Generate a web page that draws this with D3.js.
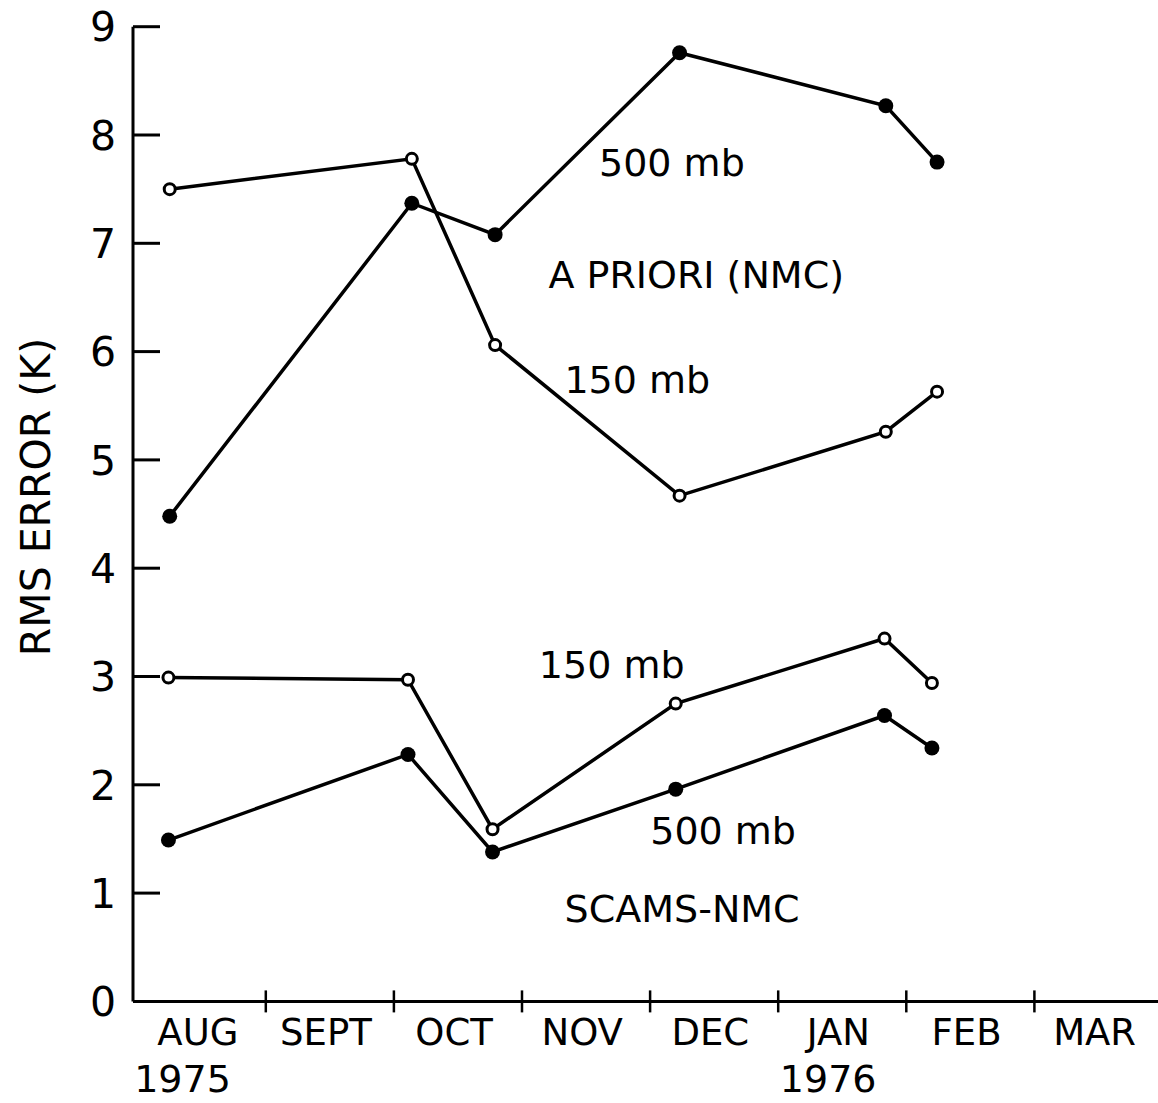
<!DOCTYPE html>
<html>
<head>
<meta charset="utf-8">
<script src="https://cdn.jsdelivr.net/npm/d3@7"></script>
<style>
  body { margin: 0; background: #fff; }
  text { font-family: "DejaVu Sans", sans-serif; fill: #000; }
</style>
</head>
<body>
<script>
// months along the x axis (index 0 = start of Aug 1975)
var months = ["AUG", "SEPT", "OCT", "NOV", "DEC", "JAN", "FEB", "MAR"];
var years = [{"label": "1975", "month": 0.35}, {"label": "1976", "month": 5.39}];
var yTicks = [0, 1, 2, 3, 4, 5, 6, 7, 8, 9];

// observation dates, in months since 1 Aug 1975
var aprioriMonths = [0.25, 2.14, 2.79, 4.23, 5.84, 6.24];
var scamsMonths = [0.24, 2.11, 2.77, 4.20, 5.83, 6.20];

// rms error (K)
var apriori500 = [4.48, 7.37, 7.08, 8.76, 8.27, 7.75];
var apriori150 = [7.50, 7.78, 6.06, 4.67, 5.26, 5.63];
var scams150 = [2.99, 2.97, 1.59, 2.75, 3.35, 2.94];
var scams500 = [1.49, 2.28, 1.38, 1.96, 2.64, 2.34];

// text labels inside the plot (month, value)
var notes = [
  {"text": "500 mb", "month": 4.17, "value": 7.75},
  {"text": "A PRIORI (NMC)", "month": 4.36, "value": 6.71},
  {"text": "150 mb", "month": 3.90, "value": 5.74},
  {"text": "150 mb", "month": 3.70, "value": 3.11},
  {"text": "500 mb", "month": 4.57, "value": 1.58},
  {"text": "SCAMS-NMC", "month": 4.25, "value": 0.86}
];

var series = [
  {"x": aprioriMonths, "y": apriori500, "open": false},
  {"x": aprioriMonths, "y": apriori150, "open": true},
  {"x": scamsMonths, "y": scams150, "open": true},
  {"x": scamsMonths, "y": scams500, "open": false}
];

var w = 1158;
var h = 1103;

var svg = d3.select("body")
            .append("svg")
            .attr("width", w)
            .attr("height", h);

//scales
var x_scale = d3.scaleLinear()
                .domain([0, 8])
                .range([137.7, 137.7 + 8 * 128.1]);

var y_scale = d3.scaleLinear()
                .domain([0, 9])
                .range([1001.4, 26.7]);

//y axis line and inward ticks
svg.append("line")
   .attr("x1", 133).attr("x2", 133)
   .attr("y1", y_scale(0)).attr("y2", y_scale(9))
   .style("stroke", "black").style("stroke-width", 3);

svg.selectAll(".ytick")
   .data(yTicks.slice(1))
   .enter()
   .append("line")
   .attr("class", "ytick")
   .attr("x1", 133).attr("x2", 160)
   .attr("y1", function(d) { return y_scale(d); })
   .attr("y2", function(d) { return y_scale(d); })
   .style("stroke", "black").style("stroke-width", 3);

svg.selectAll(".ylab")
   .data(yTicks)
   .enter()
   .append("text")
   .attr("class", "ylab")
   .attr("x", 116)
   .attr("y", function(d) { return y_scale(d); })
   .attr("dy", "0.36em")
   .style("text-anchor", "end")
   .style("font-size", "41px")
   .text(function(d) { return d; });

//y axis title
svg.append("text")
   .attr("transform", "translate(50,497) rotate(-90)")
   .style("text-anchor", "middle")
   .style("font-size", "41px")
   .text("RMS ERROR (K)");

//x axis line and month ticks
svg.append("line")
   .attr("x1", 133).attr("x2", w)
   .attr("y1", y_scale(0)).attr("y2", y_scale(0))
   .style("stroke", "black").style("stroke-width", 3);

svg.selectAll(".xtick")
   .data(d3.range(1, months.length))
   .enter()
   .append("line")
   .attr("class", "xtick")
   .attr("x1", function(d) { return x_scale(d); })
   .attr("x2", function(d) { return x_scale(d); })
   .attr("y1", y_scale(0) - 11)
   .attr("y2", y_scale(0) + 11)
   .style("stroke", "black").style("stroke-width", 2.5);

svg.selectAll(".mlab")
   .data(months)
   .enter()
   .append("text")
   .attr("class", "mlab")
   .attr("x", function(d, i) { return x_scale(i + 0.47); })
   .attr("y", 1045)
   .style("text-anchor", "middle")
   .style("font-size", "37px")
   .text(function(d) { return d; });

svg.selectAll(".yrlab")
   .data(years)
   .enter()
   .append("text")
   .attr("class", "yrlab")
   .attr("x", function(d) { return x_scale(d.month); })
   .attr("y", 1092)
   .style("text-anchor", "middle")
   .style("font-size", "38px")
   .text(function(d) { return d.label; });

//lines and points
var line = d3.line()
             .x(function(d) { return x_scale(d[0]); })
             .y(function(d) { return y_scale(d[1]); });

series.forEach(function(s) {
  var pts = s.x.map(function(m, i) { return [m, s.y[i]]; });

  svg.append("path")
     .datum(pts)
     .attr("d", line)
     .style("fill", "none")
     .style("stroke", "black")
     .style("stroke-width", 3.5);

  svg.selectAll(null)
     .data(pts)
     .enter()
     .append("circle")
     .attr("cx", function(d) { return x_scale(d[0]); })
     .attr("cy", function(d) { return y_scale(d[1]); })
     .attr("r", s.open ? 5.5 : 7.5)
     .style("fill", s.open ? "white" : "black")
     .style("stroke", "black")
     .style("stroke-width", s.open ? 3 : 0);
});

//annotations
svg.selectAll(".note")
   .data(notes)
   .enter()
   .append("text")
   .attr("class", "note")
   .attr("x", function(d) { return x_scale(d.month); })
   .attr("y", function(d) { return y_scale(d.value); })
   .attr("dy", "0.36em")
   .style("text-anchor", "middle")
   .style("font-size", "38px")
   .text(function(d) { return d.text; });
</script>
</body>
</html>
